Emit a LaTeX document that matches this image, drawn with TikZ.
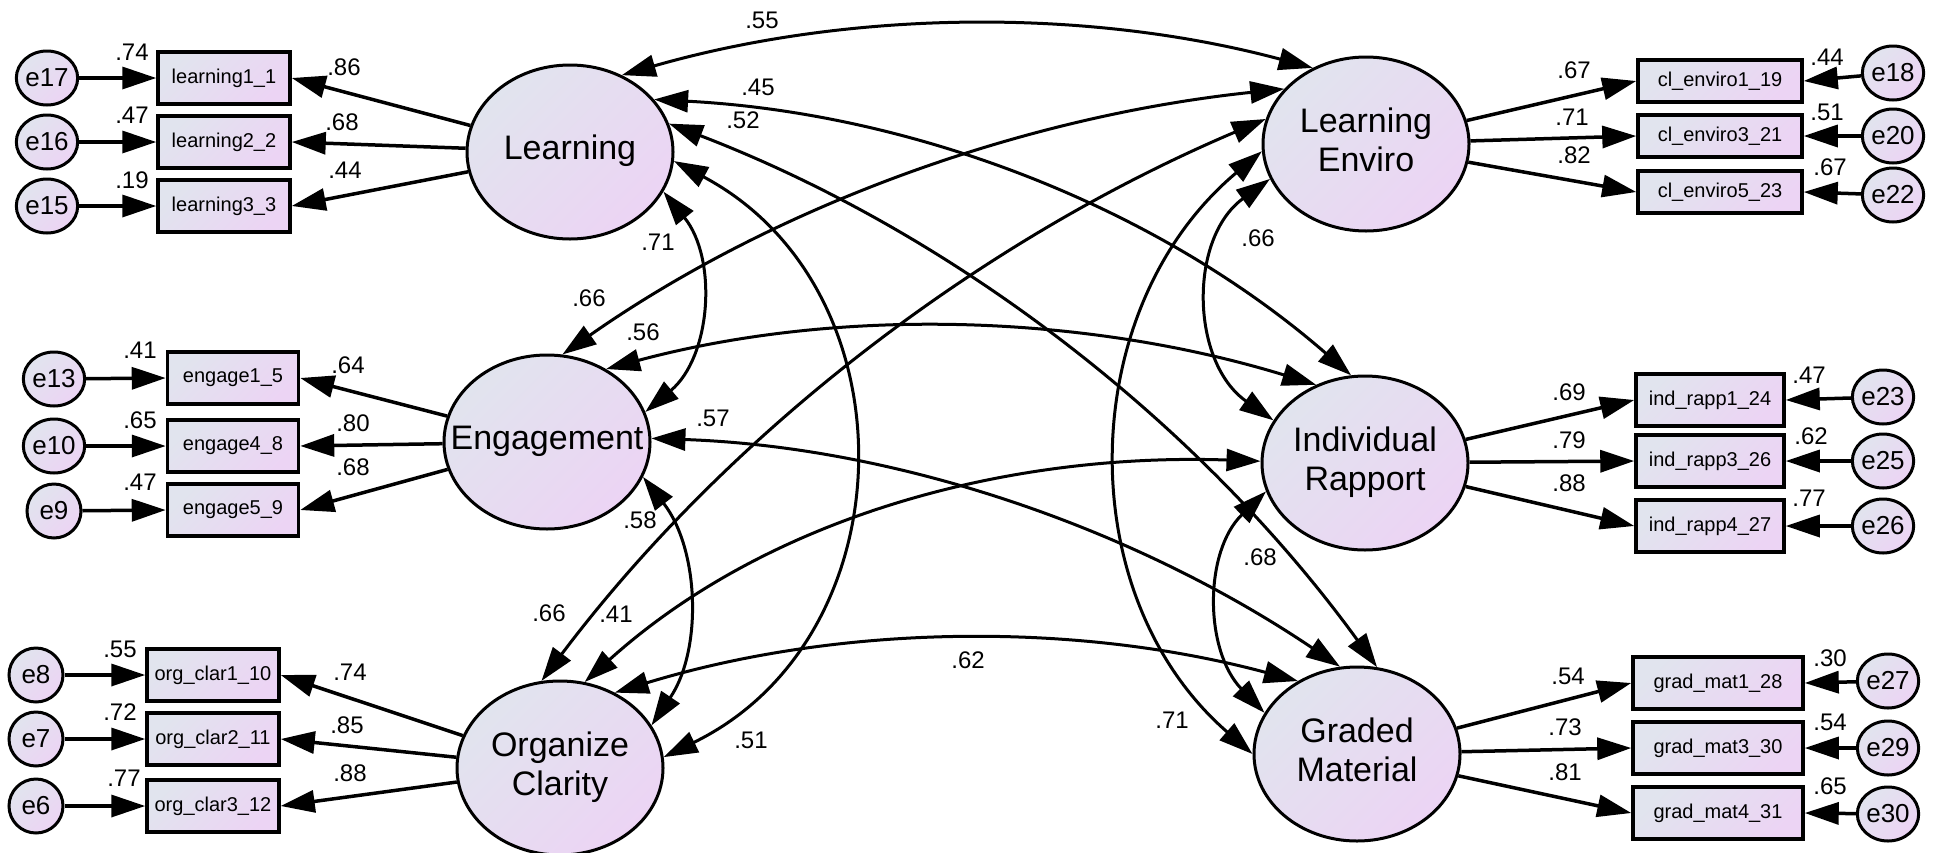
\documentclass[tikz,border=0pt]{standalone}
\usepackage{fontspec}
\setmainfont{Liberation Sans}
\usetikzlibrary{shapes.geometric,arrows.meta}
\definecolor{cA}{RGB}{225,228,238}
\definecolor{cB}{RGB}{236,212,244}
\newcommand\latfont{\fontsize{34}{39}\selectfont}
\newcommand\obsfont{\fontsize{20}{24}\selectfont}
\newcommand\errfont{\fontsize{26}{30}\selectfont}
\newcommand\numfont{\fontsize{24}{28}\selectfont}
\newcommand\lattext[1]{\makebox[0pt]{\begin{tabular}{@{}c@{}}#1\end{tabular}}}
\begin{document}
\begin{tikzpicture}[x=1pt,y=1pt,
  grad/.style={shade, shading=axis, top color=cA, bottom color=cB, shading angle=45},
  lat/.style={ellipse, draw, line width=3pt, minimum width=206pt, minimum height=174pt, inner sep=0pt, grad, font=\latfont},
  obs/.style={rectangle, draw, line width=3.5pt, minimum height=52pt, inner sep=0pt, grad, font=\obsfont},
  err/.style={ellipse, draw, line width=3pt, minimum width=54pt, minimum height=54pt, inner sep=0pt, grad, font=\errfont},
  num/.style={font=\numfont, inner sep=0pt},
  load/.style={line width=3.5pt, -{Triangle[length=34pt,width=22pt]}},
  cov/.style={line width=3pt, {Triangle[length=34pt,width=22pt]}-{Triangle[length=34pt,width=22pt]}}
]
\useasboundingbox (0,0) rectangle (1933,-852);
\fill[white] (0,0) rectangle (1933,-852);

% latent variables
\node[lat] (L)  at (570,-152)  {\lattext{Learning}};
\node[lat] (E)  at (547,-442)  {\lattext{Engagement}};
\node[lat] (O)  at (560,-768)  {\lattext{Organize\\Clarity}};
\node[lat] (LE) at (1366,-144) {\lattext{Learning\\Enviro}};
\node[lat] (IR) at (1365,-463) {\lattext{Individual\\Rapport}};
\node[lat] (GM) at (1357,-754) {\lattext{Graded\\Material}};

% observed - left
\node[obs, minimum width=132pt] (l1) at (224,-78)  {learning1\_1};
\node[obs, minimum width=132pt] (l2) at (224,-142) {learning2\_2};
\node[obs, minimum width=132pt] (l3) at (224,-206) {learning3\_3};
\node[obs, minimum width=131pt] (g1) at (233,-378) {engage1\_5};
\node[obs, minimum width=131pt] (g4) at (233,-446) {engage4\_8};
\node[obs, minimum width=131pt] (g5) at (233,-510) {engage5\_9};
\node[obs, minimum width=132pt] (o1) at (213,-675) {org\_clar1\_10};
\node[obs, minimum width=132pt] (o2) at (213,-739) {org\_clar2\_11};
\node[obs, minimum width=132pt] (o3) at (213,-806) {org\_clar3\_12};
% observed - right
\node[obs, minimum width=164pt, minimum height=42pt] (c1) at (1720,-81)  {cl\_enviro1\_19};
\node[obs, minimum width=164pt, minimum height=42pt] (c3) at (1720,-136) {cl\_enviro3\_21};
\node[obs, minimum width=164pt, minimum height=42pt] (c5) at (1720,-192) {cl\_enviro5\_23};
\node[obs, minimum width=148pt] (r1) at (1710,-400) {ind\_rapp1\_24};
\node[obs, minimum width=148pt] (r3) at (1710,-461) {ind\_rapp3\_26};
\node[obs, minimum width=148pt] (r4) at (1710,-526) {ind\_rapp4\_27};
\node[obs, minimum width=170pt] (m1) at (1718,-683) {grad\_mat1\_28};
\node[obs, minimum width=170pt] (m3) at (1718,-748) {grad\_mat3\_30};
\node[obs, minimum width=170pt] (m4) at (1718,-813) {grad\_mat4\_31};

% errors
\node[err] (e17) at (47,-78)  {e17};
\node[err] (e16) at (47,-142) {e16};
\node[err] (e15) at (47,-206) {e15};
\node[err] (e13) at (54,-379) {e13};
\node[err] (e10) at (54,-446) {e10};
\node[err] (e9)  at (54,-511) {e9};
\node[err] (e8)  at (36,-675) {e8};
\node[err] (e7)  at (36,-739) {e7};
\node[err] (e6)  at (36,-806) {e6};
\node[err] (e18) at (1893,-73)  {e18};
\node[err] (e20) at (1893,-136) {e20};
\node[err] (e22) at (1893,-195) {e22};
\node[err] (e23) at (1883,-397) {e23};
\node[err] (e25) at (1883,-461) {e25};
\node[err] (e26) at (1883,-526) {e26};
\node[err] (e27) at (1888,-681) {e27};
\node[err] (e29) at (1888,-748) {e29};
\node[err] (e30) at (1888,-814) {e30};

% loadings
\draw[load] (L) -- (l1.east);
\draw[load] (L) -- (l2.east);
\draw[load] (L) -- (l3.east);
\draw[load] (E) -- (g1.east);
\draw[load] (E) -- (g4.east);
\draw[load] (E) -- (g5.east);
\draw[load] (O) -- (o1.east);
\draw[load] (O) -- (o2.east);
\draw[load] (O) -- (o3.east);
\draw[load] (LE) -- (c1.west);
\draw[load] (LE) -- (c3.west);
\draw[load] (LE) -- (c5.west);
\draw[load] (IR) -- (r1.west);
\draw[load] (IR) -- (r3.west);
\draw[load] (IR) -- (r4.west);
\draw[load] (GM) -- (m1.west);
\draw[load] (GM) -- (m3.west);
\draw[load] (GM) -- (m4.west);

% error arrows
\draw[load] (e17) -- (l1.west);
\draw[load] (e16) -- (l2.west);
\draw[load] (e15) -- (l3.west);
\draw[load] (e13) -- (g1.west);
\draw[load] (e10) -- (g4.west);
\draw[load] (e9)  -- (g5.west);
\draw[load] (e8)  -- (o1.west);
\draw[load] (e7)  -- (o2.west);
\draw[load] (e6)  -- (o3.west);
\draw[load] (e18) -- (c1.east);
\draw[load] (e20) -- (c3.east);
\draw[load] (e22) -- (c5.east);
\draw[load] (e23) -- (r1.east);
\draw[load] (e25) -- (r3.east);
\draw[load] (e26) -- (r4.east);
\draw[load] (e27) -- (m1.east);
\draw[load] (e29) -- (m3.east);
\draw[load] (e30) -- (m4.east);

% covariances
\draw[cov] (L.56)  to[out=16,in=165,looseness=0.87] (LE.125);
\draw[cov] (L.32)  to[out=-3,in=139,looseness=0.88] (IR.99);
\draw[cov] (L.16)  to[out=-21,in=126,looseness=0.87] (GM.77);
\draw[cov] (E.2)   to[out=-2,in=146,looseness=0.87] (GM.101);
\draw[cov] (O.54)  to[out=17,in=165,looseness=0.87] (GM.129);
\draw[cov] (L.355) to[out=-28,in=26,looseness=1.17] (O.6);
\draw[cov] (L.337) to[out=-51,in=40,looseness=1] (E.17);
\draw[cov] (E.340) to[out=-52,in=56,looseness=0.94] (O.25);
\draw[cov] (E.80)  to[out=35,in=186,looseness=0.87] (LE.146);
\draw[cov] (O.102) to[out=53,in=203,looseness=0.87] (LE.166);
\draw[cov] (O.74)  to[out=42,in=178,looseness=0.9] (IR.179);
\draw[cov] (E.51)  to[out=15,in=163,looseness=0.87] (IR.122);
\draw[cov] (LE.200) to[out=-144,in=145,looseness=1.07] (IR.155);
\draw[cov] (IR.196) to[out=-136,in=134,looseness=1] (GM.156);
\draw[cov] (LE.184) to[out=-140,in=139,looseness=1.03] (GM.180);

% covariance labels
\node[num] (k1)  at (762,-20)  {.55};
\node[num] (k2)  at (758,-87)  {.45};
\node[num] (k3)  at (743,-120) {.52};
\node[num] (k4)  at (658,-242) {.71};
\node[num] (k5)  at (589,-298) {.66};
\node[num] (k6)  at (643,-332) {.56};
\node[num] (k7)  at (713,-418) {.57};
\node[num] (k8)  at (640,-520) {.58};
\node[num] (k9)  at (549,-613) {.66};
\node[num] (k10) at (616,-614) {.41};
\node[num] (k11) at (968,-660) {.62};
\node[num] (k12) at (751,-740) {.51};
\node[num] (k13) at (1258,-238) {.66};
\node[num] (k14) at (1260,-557) {.68};
\node[num] (k15) at (1172,-720) {.71};

% loading labels
\node[num] (a1) at (344,-67)  {.86};
\node[num] (a2) at (342,-122) {.68};
\node[num] (a3) at (345,-170) {.44};
\node[num] (a4) at (348,-365) {.64};
\node[num] (a5) at (353,-423) {.80};
\node[num] (a6) at (353,-467) {.68};
\node[num] (a7) at (350,-672) {.74};
\node[num] (a8) at (347,-725) {.85};
\node[num] (a9) at (350,-773) {.88};
\node[num] (a10) at (1574,-70)  {.67};
\node[num] (a11) at (1572,-117) {.71};
\node[num] (a12) at (1574,-155) {.82};
\node[num] (a13) at (1569,-392) {.69};
\node[num] (a14) at (1569,-440) {.79};
\node[num] (a15) at (1569,-483) {.88};
\node[num] (a16) at (1568,-676) {.54};
\node[num] (a17) at (1565,-727) {.73};
\node[num] (a18) at (1565,-772) {.81};

% squared multiple correlations
\node[num] (s1) at (132,-52)  {.74};
\node[num] (s2) at (132,-115) {.47};
\node[num] (s3) at (132,-180) {.19};
\node[num] (s4) at (140,-350) {.41};
\node[num] (s5) at (140,-420) {.65};
\node[num] (s6) at (140,-482) {.47};
\node[num] (s7) at (120,-649) {.55};
\node[num] (s8) at (120,-712) {.72};
\node[num] (s9) at (124,-778) {.77};
\node[num] (s10) at (1827,-57)  {.44};
\node[num] (s11) at (1827,-112) {.51};
\node[num] (s12) at (1830,-167) {.67};
\node[num] (s13) at (1809,-375) {.47};
\node[num] (s14) at (1811,-436) {.62};
\node[num] (s15) at (1809,-498) {.77};
\node[num] (s16) at (1830,-658) {.30};
\node[num] (s17) at (1830,-722) {.54};
\node[num] (s18) at (1830,-786) {.65};
\end{tikzpicture}
\end{document}
